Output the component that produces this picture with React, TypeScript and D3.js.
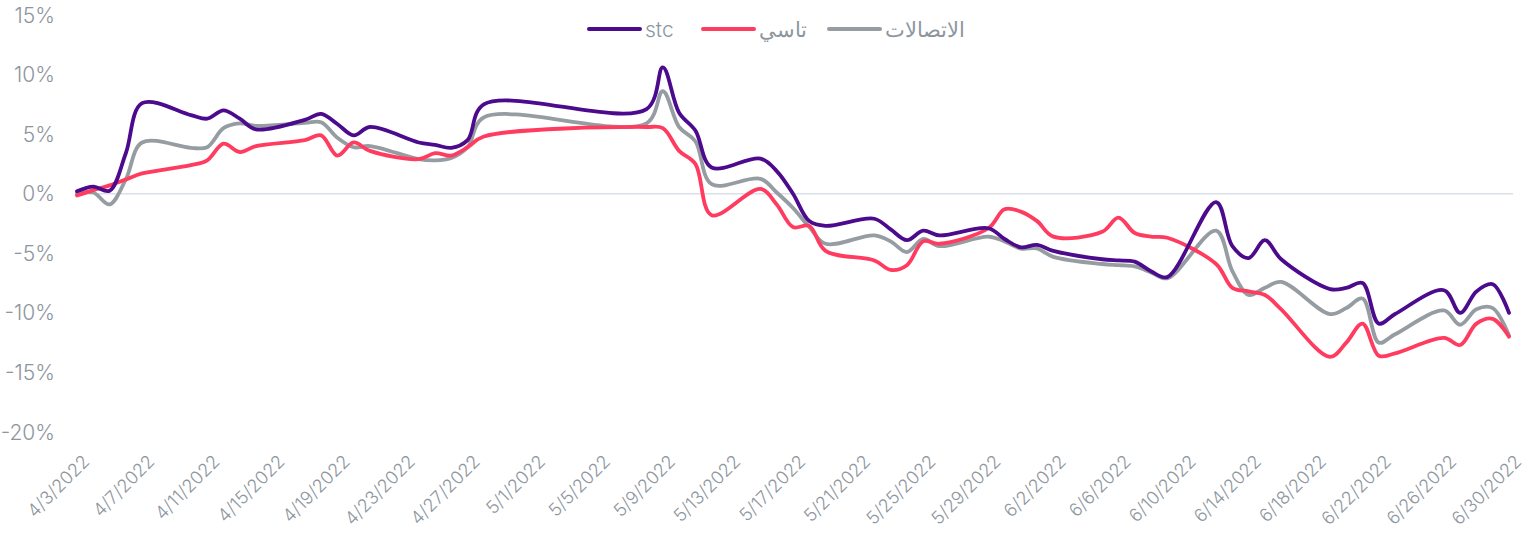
import React, { useEffect, useRef } from 'react';
import * as d3 from 'd3';

const dates = [
  '4/3/2022', '4/4/2022', '4/5/2022', '4/6/2022', '4/7/2022',
  '4/10/2022', '4/11/2022', '4/12/2022', '4/13/2022', '4/14/2022',
  '4/17/2022', '4/18/2022', '4/19/2022', '4/20/2022', '4/21/2022',
  '4/24/2022', '4/25/2022', '4/26/2022', '4/27/2022', '4/28/2022',
  '5/8/2022', '5/9/2022', '5/10/2022', '5/11/2022', '5/12/2022',
  '5/15/2022', '5/16/2022', '5/17/2022', '5/18/2022', '5/19/2022',
  '5/22/2022', '5/23/2022', '5/24/2022', '5/25/2022', '5/26/2022',
  '5/29/2022', '5/30/2022', '5/31/2022', '6/1/2022', '6/2/2022',
  '6/5/2022', '6/6/2022', '6/7/2022', '6/8/2022', '6/9/2022',
  '6/12/2022', '6/13/2022', '6/14/2022', '6/15/2022', '6/16/2022',
  '6/19/2022', '6/20/2022', '6/21/2022', '6/22/2022', '6/23/2022',
  '6/26/2022', '6/27/2022', '6/28/2022', '6/29/2022', '6/30/2022',
];

const stc = [
  0.2, 0.6, 0.25, 3.4, 7.6,
  6.6, 6.3, 7.0, 6.3, 5.4,
  6.2, 6.7, 5.85, 4.9, 5.6,
  4.3, 4.1, 3.85, 4.5, 7.5,
  7.1, 10.6, 6.8, 5.3, 2.2,
  2.95, 1.9, 0.0, -2.3, -2.7,
  -2.1, -3.0, -3.9, -3.1, -3.5,
  -2.9, -3.8, -4.5, -4.3, -4.8,
  -5.5, -5.6, -5.7, -6.5, -7.0,
  -0.7, -4.4, -5.4, -3.9, -5.5,
  -8.0, -7.9, -7.5, -10.9, -10.1,
  -8.1, -10.0, -8.2, -7.6, -10.0,
];

const tasi = [
  -0.15, 0.3, 0.7, 1.2, 1.7,
  2.4, 2.8, 4.2, 3.5, 4.0,
  4.5, 4.9, 3.2, 4.3, 3.6,
  2.9, 3.4, 3.2, 3.9, 4.8,
  5.6, 5.5, 3.6, 2.5, -1.8,
  0.4, -0.9, -2.8, -2.7, -4.8,
  -5.6, -6.4, -6.0, -4.0, -4.2,
  -2.9, -1.3, -1.5, -2.3, -3.6,
  -3.2, -2.0, -3.3, -3.6, -3.7,
  -5.9, -7.9, -8.2, -8.5, -9.7,
  -13.7, -12.5, -10.9, -13.6, -13.4,
  -12.1, -12.7, -10.9, -10.5, -12.0,
];

const telecom = [
  0.0, 0.1, -0.9, 1.2, 4.3,
  3.85, 3.9, 5.5, 5.9, 5.7,
  5.95, 6.0, 4.7, 3.9, 4.0,
  2.9, 2.8, 3.0, 3.9, 6.4,
  5.9, 8.6, 5.6, 4.4, 0.8,
  1.25, 0.1, -1.2, -2.8, -4.2,
  -3.5, -4.0, -4.9, -3.8, -4.4,
  -3.6, -4.0, -4.6, -4.6, -5.3,
  -5.9, -6.0, -6.1, -6.6, -7.1,
  -3.1, -6.5, -8.5, -7.9, -7.4,
  -10.1, -9.6, -8.8, -12.5, -11.8,
  -9.8, -11.0, -9.7, -9.6, -11.9,
];

const tickLabels = [
  '4/3/2022', '4/7/2022', '4/11/2022', '4/15/2022', '4/19/2022', '4/23/2022',
  '4/27/2022', '5/1/2022', '5/5/2022', '5/9/2022', '5/13/2022', '5/17/2022',
  '5/21/2022', '5/25/2022', '5/29/2022', '6/2/2022', '6/6/2022', '6/10/2022',
  '6/14/2022', '6/18/2022', '6/22/2022', '6/26/2022', '6/30/2022',
];

const yTicks = [15, 10, 5, 0, -5, -10, -15, -20];

const seriesNames = ['stc', 'تاسي', 'الاتصالات'];
const seriesColors = ['#4c0a8d', '#ff3b5f', '#959ca2'];

const W = 1526;
const H = 539;
const FONT = 'Inter, Lato, "DejaVu Sans", sans-serif';
const GREY_TEXT = '#8d969e';

export default function App() {
  const svgRef = useRef<SVGSVGElement>(null);

  useEffect(() => {
    const svg = d3.select(svgRef.current);
    svg.selectAll('*').remove();

    const parse = d3.timeParse('%m/%d/%Y');
    const xs = dates.map((d) => parse(d) as Date);

    const x = d3.scaleTime()
      .domain([parse('4/3/2022') as Date, parse('6/30/2022') as Date])
      .range([77, 1509]);
    const y = d3.scaleLinear().domain([-20, 15]).range([432, 15]);

    // y labels
    svg.append('g')
      .selectAll('text')
      .data(yTicks)
      .enter()
      .append('text')
      .attr('x', 55)
      .attr('y', (d) => y(d))
      .attr('dy', '0.36em')
      .attr('text-anchor', 'end')
      .attr('font-family', FONT)
      .attr('font-weight', 300)
      .attr('font-size', 21)
      .attr('fill', GREY_TEXT)
      .text((d) => d + '%');

    // zero line
    svg.append('line')
      .attr('x1', 77)
      .attr('x2', 1513)
      .attr('y1', y(0))
      .attr('y2', y(0))
      .attr('stroke', '#dadfe8')
      .attr('stroke-width', 1.5);

    // x labels
    svg.append('g')
      .selectAll('text')
      .data(tickLabels)
      .enter()
      .append('text')
      .attr('transform', (d) => `translate(${x(parse(d) as Date) + 9},${458}) rotate(-45)`)
      .attr('text-anchor', 'end')
      .attr('dy', '0.36em')
      .attr('font-family', FONT)
      .attr('font-weight', 300)
      .attr('font-size', 18)
      .attr('fill', GREY_TEXT)
      .text((d) => d);

    const all = [stc, tasi, telecom];
    const line = d3.line<number>()
      .x((d, i) => x(xs[i]))
      .y((d) => y(d))
      .curve(d3.curveCatmullRom.alpha(0.5));

    // grey first, purple on top
    [2, 1, 0].forEach((k) => {
      svg.append('path')
        .attr('d', line(all[k]) as string)
        .attr('fill', 'none')
        .attr('stroke', seriesColors[k])
        .attr('stroke-width', 3.8)
        .attr('stroke-linejoin', 'round')
        .attr('stroke-linecap', 'round');
    });

    // legend
    const legendX = [589, 703, 829];
    const lg = svg.append('g');
    seriesNames.forEach((name, i) => {
      lg.append('line')
        .attr('x1', legendX[i])
        .attr('x2', legendX[i] + 51)
        .attr('y1', 29)
        .attr('y2', 29)
        .attr('stroke', seriesColors[i])
        .attr('stroke-width', 4)
        .attr('stroke-linecap', 'round');
      lg.append('text')
        .attr('x', legendX[i] + 56)
        .attr('y', 29)
        .attr('dy', '0.36em')
        .attr('font-family', FONT)
        .attr('font-weight', 300)
        .attr('font-size', 21)
        .attr('fill', GREY_TEXT)
        .text(name);
    });
  }, []);

  return (
    <svg
      ref={svgRef}
      width={W}
      height={H}
      style={{ position: 'absolute', left: 0, top: 0, background: '#fff' }}
    />
  );
}
